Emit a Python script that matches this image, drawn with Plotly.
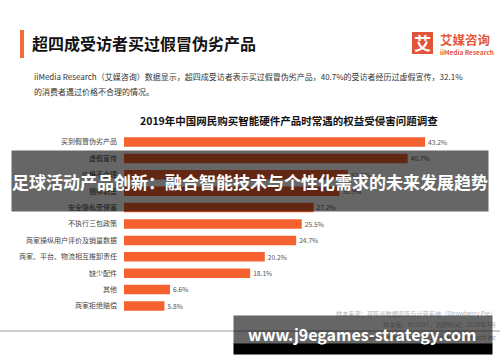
import plotly.graph_objects as go

categories = ["买到假冒伪劣产品", "虚假宣传", "价格不合理", "捆绑销售", "安全隐私受侵害",
              "不执行三包政策", "商家操纵用户评价及销量数据", "商家、平台、物流相互推卸责任",
              "缺少配件", "其他", "商家拒绝赔偿"]
values = [43.2, 40.7, 32.1, 30.9, 27.2, 25.5, 24.7, 20.2, 18.1, 6.6, 5.8]
value_labels = [f"{v:.1f}%" for v in values]

title = "超四成受访者买过假冒伪劣产品"
subtitle1 = "iiMedia Research（艾媒咨询）数据显示，超四成受访者表示买过假冒伪劣产品，40.7%的受访者经历过虚假宣传，32.1%"
subtitle2 = "的消费者遇过价格不合理的情况。"
chart_title = "2019年中国网民购买智能硬件产品时常遇的权益受侵害问题调查"
source_lines = ["样本来源：草莓派数据调查与计算系统（Strawberry Pie）",
                "样本量：N=1597，调研时间：2019年3月",
                "www.iimedia.cn  ©2019 iiMedia Research Inc"]
overlay_text = "足球活动产品创新：融合智能技术与个性化需求的未来发展趋势"
url_text = "www.j9egames-strategy.com"

W, H = 500, 362
FONT = "Noto Sans CJK SC"
ORANGE = "#F5612F"

def px(x):
    return x / W

def py(y):
    return 1 - y / H

fig = go.Figure()
fig.add_trace(go.Bar(
    x=values, y=categories, orientation="h",
    marker=dict(color=ORANGE, line=dict(width=0)),
    text=value_labels, textposition="outside", cliponaxis=False,
    textfont=dict(size=7, color="#555", family=FONT),
    width=0.58,
))

fig.update_layout(
    width=W, height=H, margin=dict(l=0, r=0, t=0, b=0),
    paper_bgcolor="white", plot_bgcolor="white",
    showlegend=False,
    font=dict(family=FONT),
    xaxis=dict(domain=[px(124), 1], range=[0, (W - 124) / 6.97], visible=False, fixedrange=True),
    yaxis=dict(domain=[py(314.2), py(133.8)], type="category", categoryorder="array",
               categoryarray=categories, range=[10.5, -0.5], showgrid=False, zeroline=False,
               showline=False, ticks="", ticklabelstandoff=6, fixedrange=True,
               tickfont=dict(size=7, color="#444", family=FONT)),
)

shapes = [
    dict(type="rect", xref="paper", yref="paper", x0=px(20), x1=px(24), y0=py(58), y1=py(30),
         fillcolor="#F26B3A", line=dict(width=0)),
    dict(type="rect", xref="paper", yref="paper", x0=px(412), x1=px(433), y0=py(54), y1=py(32),
         fillcolor="#E0553A", line=dict(width=0)),
    dict(type="line", xref="paper", yref="paper", x0=0, x1=1, y0=py(331), y1=py(331),
         line=dict(color="#9a9a9a", width=1)),
]
fig.update_layout(shapes=shapes)

ann = []
def add(text, x, y, size, color, xanchor="left", bold=False, **kw):
    t = f"<b>{text}</b>" if bold else text
    ann.append(dict(text=t, x=px(x), y=py(y), xref="paper", yref="paper", showarrow=False,
                    xanchor=xanchor, yanchor="middle", font=dict(size=size, color=color, family=FONT), **kw))

add(title, 30, 43, 16, "#111", bold=True)
add(subtitle1, 32, 76, 8, "#333")
add(subtitle2, 32, 91, 8, "#333")
add(chart_title, 289, 121, 10.5, "#111", xanchor="center", bold=True)
add("艾", 422.5, 43, 17, "white", xanchor="center", bold=True)
add("艾媒咨询", 438, 40, 12.5, "#E4573A", bold=True)
add("iiMedia Research", 438, 51.5, 6.5, "#E4573A", bold=True)
add(source_lines[0], 498, 313, 6.2, "#b5b5b5", xanchor="right")
add(source_lines[1], 498, 324, 6.2, "#b5b5b5", xanchor="right")
add(source_lines[2], 498, 337, 6.2, "#9a9a9a", xanchor="right")

# overlay bands (annotations drawn over the other texts)
ann.append(dict(text=f"<b>{overlay_text}</b>", x=px(250), y=py(181), xref="paper", yref="paper",
                showarrow=False, xanchor="center", yanchor="middle", width=476, height=60,
                borderpad=0, bgcolor="rgba(0,0,0,0.6)",
                font=dict(size=17, color="white", family=FONT)))
ann.append(dict(text=" ", x=px(233), y=py(315), xref="paper", yref="paper", showarrow=False,
                xanchor="left", yanchor="top", width=258, height=28, borderpad=0,
                bgcolor="rgba(0,0,0,0.6)", font=dict(size=6)))
ann.append(dict(text=" ", x=px(233), y=py(343), xref="paper", yref="paper", showarrow=False,
                xanchor="left", yanchor="top", width=258, height=10, borderpad=0,
                bgcolor="black", font=dict(size=6)))
ann.append(dict(text=f"<b>{url_text}</b>", x=px(362), y=py(334), xref="paper", yref="paper",
                showarrow=False, xanchor="center", yanchor="middle",
                font=dict(size=16, color="white", family=FONT)))
fig.update_layout(annotations=ann)

fig.write_html("out.html", config={"displayModeBar": False},
               post_script="document.body.style.margin='0';")
